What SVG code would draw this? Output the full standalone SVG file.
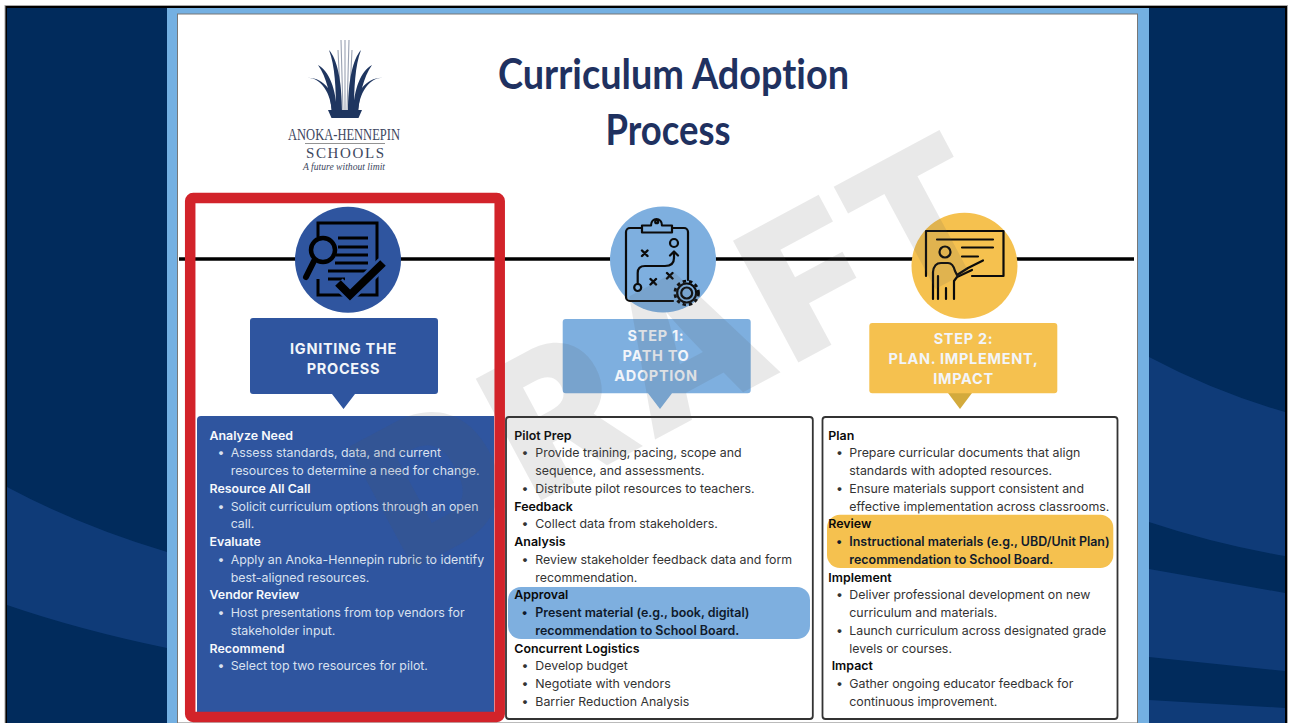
<svg xmlns="http://www.w3.org/2000/svg" width="1294" height="723" viewBox="0 0 1294 723">
<style>
.b{font:400 12.36px Inter,"Liberation Sans",sans-serif;fill:#333;transform:translateY(.3px)}
.h{font:600 12.42px Inter,"Liberation Sans",sans-serif;fill:#0a0a0a;transform:translateY(.3px)}
.s{font:600 12.45px Inter,"Liberation Sans",sans-serif;fill:#0f1a2c;transform:translateY(.3px)}
.w .b{fill:#d9e1ef}
.w .h{fill:#f7f9fc}
.hd{font:700 14.5px Inter,"Liberation Sans",sans-serif;letter-spacing:.7px;text-anchor:middle;fill:#f2f5fa}
.t{font:700 42px Lato,"Liberation Sans",sans-serif;fill:#1f3160;text-anchor:middle;font-variant-ligatures:none}
.lg{font-family:"Liberation Serif",serif;fill:#3d4760;text-anchor:middle}
.ic{fill:none;stroke:#0b0b0b;stroke-width:2.200;stroke-linecap:round;stroke-linejoin:round}
.card{fill:#fff;stroke:#333;stroke-width:1.8}
</style>
<g id="background">
<rect width="1294" height="723" fill="#fff"/>
<rect x="4.5" y="5" width="1283.5" height="718" fill="#a8a8a8"/>
<rect x="5.5" y="6" width="1281.5" height="717" fill="#000"/>
<rect x="7" y="8" width="1278" height="715" fill="#012b5c"/>
<path d="M7 487Q80 526 167 552V648Q80 630 7 605Z" fill="#0f3b78"/>
<path d="M1149 357Q1215 392 1285 412V556Q1215 544 1149 522Z" fill="#0f3b78"/>
<path d="M1149 569L1285 593V671L1149 657Z" fill="#0f3b78"/>
<path d="M1149 700L1285 708V723H1149Z" fill="#0f3b78"/>
<rect x="167" y="8" width="982" height="715" fill="#74b0e2"/>
<rect x="177.500" y="14" width="960" height="709" fill="#fff" stroke="#777" stroke-width="1"/>
</g>
<g id="connectors">
<path d="M179 259H1134" stroke="#000" stroke-width="3.500" fill="none"/>
</g>
<g id="logo">
<path d="M341 40L343 112M345 40V112M349 40L347 112M338 50L341 112M352 50L349 112" stroke="#9aa2b2" stroke-width="1.100" fill="none"/>
<g fill="#1f3660">
<path d="M331.500 118H358.500L362 110H328Z"/>
<path d="M305 78C320 76 331 92 332 113L338 113C335 92 323 76 305 78Z"/>
<path d="M318 65C329 71 336 88 337 113L332 113C330 94 327 78 318 65Z"/>
<path d="M329 50C337 59 342 80 342 113L336 113C336 88 335 66 329 50Z"/>
<path d="M385 78C370 76 359 92 358 113L352 113C355 92 367 76 385 78Z"/>
<path d="M372 65C361 71 354 88 353 113L358 113C360 94 363 78 372 65Z"/>
<path d="M361 50C353 59 348 80 348 113L354 113C354 88 355 66 361 50Z"/>
</g>
<text class="lg" x="344" y="140" font-size="16.500" textLength="112" lengthAdjust="spacingAndGlyphs">ANOKA-HENNEPIN</text>
<path d="M305 143.500H385" stroke="#777" stroke-width=".8"/>
<text class="lg" x="345" y="157.500" font-size="15" textLength="78">SCHOOLS</text>
<text class="lg" x="344" y="170" font-size="10.500" font-style="italic" textLength="82" lengthAdjust="spacingAndGlyphs">A future without limit</text>
</g>
<g id="title">
<text class="t" x="673.500" y="89" textLength="351" lengthAdjust="spacingAndGlyphs">Curriculum Adoption</text>
<text class="t" x="668" y="145" textLength="125" lengthAdjust="spacingAndGlyphs">Process</text>
</g>
<g id="node-igniting" class="w">
<circle cx="348" cy="259.700" r="53" fill="#2f559f"/>
<path d="M318 237V223H377V295H318V279" fill="none" stroke="#000" stroke-width="3"/>
<path d="M338 238H368M338 247H368M336 255H368M335 263H368M328 271H368M328 279H345" stroke="#000" stroke-width="3" fill="none"/>
<path d="M315 259L306 277" stroke="#000" stroke-width="6" stroke-linecap="round"/>
<circle cx="323" cy="250" r="12" fill="#2f559f" stroke="#000" stroke-width="4.500"/>
<path d="M338 283L350 295L383 263" fill="none" stroke="#2f559f" stroke-width="13"/>
<path d="M338 283L350 295L383 263" fill="none" stroke="#000" stroke-width="8"/>
<path d="M253 318H435a3 3 0 0 1 3 3V391a3 3 0 0 1-3 3H355L343.500 409L332 394H253a3 3 0 0 1-3-3V321a3 3 0 0 1 3-3Z" fill="#2f559f"/>
<text class="hd" x="343.500" y="354">IGNITING THE</text>
<text class="hd" x="343.500" y="373.500">PROCESS</text>
<path d="M197 420a4 4 0 0 1 4-4H494V712H197Z" fill="#2f559f"/>
<text class="h" x="209.500" y="439.500">Analyze Need</text>
<text class="b" x="217.500" y="457.200">•</text><text class="b" x="230.700" y="457.200">Assess standards, data, and current</text>
<text class="b" x="230.700" y="475">resources to determine a need for change.</text>
<text class="h" x="209.500" y="492.700">Resource All Call</text>
<text class="b" x="217.500" y="510.400">•</text><text class="b" x="230.700" y="510.400">Solicit curriculum options through an open</text>
<text class="b" x="230.700" y="528.100">call.</text>
<text class="h" x="209.500" y="545.900">Evaluate</text>
<text class="b" x="217.500" y="563.600">•</text><text class="b" x="230.700" y="563.600">Apply an Anoka-Hennepin rubric to identify</text>
<text class="b" x="230.700" y="581.300">best-aligned resources.</text>
<text class="h" x="209.500" y="599">Vendor Review</text>
<text class="b" x="217.500" y="616.800">•</text><text class="b" x="230.700" y="616.800">Host presentations from top vendors for</text>
<text class="b" x="230.700" y="634.500">stakeholder input.</text>
<text class="h" x="209.500" y="652.300">Recommend</text>
<text class="b" x="217.500" y="670">•</text><text class="b" x="230.700" y="670">Select top two resources for pilot.</text>
</g>
<g id="node-step1">
<circle cx="663" cy="259.500" r="53" fill="#7eafdf"/>
<g class="ic">
<path d="M642 228H630a4 4 0 0 0-4 4V297a4 4 0 0 0 4 4H673M688 280V232a4 4 0 0 0-4-4H672"/>
<path d="M642 232.500V225.500H651C651 217 662 217 662 225.500H672V232.500Z"/>
<circle cx="656.700" cy="221.700" r="1.500"/>
<circle cx="637.700" cy="287.500" r="3.500"/>
<circle cx="674" cy="243" r="4"/>
<path d="M637.700 284V273Q637.700 266 645 266H665Q674 266 674 258V252M670 255.500L674 251.500L678 255.500"/>
<path d="M642 250.500L647.500 256M647.500 250.500L642 256M650.500 279L656 284.500M656 279L650.500 284.500M667 273L672.500 278.500M672.500 273L667 278.500" stroke-width="2.400"/>
<circle cx="686.700" cy="293" r="9.500" fill="#7eafdf"/>
<circle cx="686.700" cy="293" r="5.500"/>
<circle cx="686.700" cy="293" r="11.800" stroke-dasharray="3.400 3" stroke-width="2.800" stroke-linecap="butt"/>
</g>
<path d="M565.700 319H747.700a3 3 0 0 1 3 3V390.300a3 3 0 0 1-3 3H672L660 409L648 393.300H565.700a3 3 0 0 1-3-3V322a3 3 0 0 1 3-3Z" fill="#7eafdf"/>
<text class="hd" x="656" y="341">STEP 1:</text>
<text class="hd" x="656" y="361">PATH TO</text>
<text class="hd" x="656" y="380.500">ADOPTION</text>
<rect class="card" x="506" y="417" width="306.800" height="302" rx="3"/>
<rect x="508" y="587" width="302" height="52" rx="13" fill="#7eafdf"/>
<text class="h" x="514.300" y="439.500">Pilot Prep</text>
<text class="b" x="521.500" y="457.200">•</text><text class="b" x="535.300" y="457.200">Provide training, pacing, scope and</text>
<text class="b" x="535.300" y="475">sequence, and assessments.</text>
<text class="b" x="521.500" y="492.700">•</text><text class="b" x="535.300" y="492.700">Distribute pilot resources to teachers.</text>
<text class="h" x="514.300" y="510.400">Feedback</text>
<text class="b" x="521.500" y="528.100">•</text><text class="b" x="535.300" y="528.100">Collect data from stakeholders.</text>
<text class="h" x="514.300" y="545.900">Analysis</text>
<text class="b" x="521.500" y="563.600">•</text><text class="b" x="535.300" y="563.600">Review stakeholder feedback data and form</text>
<text class="b" x="535.300" y="581.300">recommendation.</text>
<text class="h" x="514.300" y="599">Approval</text>
<text class="s" x="521.500" y="616.800">•</text><text class="s" x="535.300" y="616.800">Present material (e.g., book, digital)</text>
<text class="s" x="535.300" y="634.500">recommendation to School Board.</text>
<text class="h" x="514.300" y="652.300">Concurrent Logistics</text>
<text class="b" x="521.500" y="670">•</text><text class="b" x="535.300" y="670">Develop budget</text>
<text class="b" x="521.500" y="687.700">•</text><text class="b" x="535.300" y="687.700">Negotiate with vendors</text>
<text class="b" x="521.500" y="705.400">•</text><text class="b" x="535.300" y="705.400">Barrier Reduction Analysis</text>
</g>
<g id="node-step2">
<circle cx="964.500" cy="265.800" r="53" fill="#f5c14f"/>
<g class="ic">
<path d="M926 276V231H1003.500V276H972"/>
<path d="M937 239.500H993M962 247.500H993M962 256.500H978"/>
<circle cx="945" cy="252" r="5.500"/>
<path d="M933 299V272Q934 263 941 263H948Q953 263 955 271L957 275L968 268L983 260.500"/>
<path d="M954 299V281L957 277L972 270M938 276V299M946 288V299"/>
</g>
<path d="M948 393L960 409L972 393Z" fill="#d3aa3c"/>
<rect x="869.300" y="323" width="188" height="70.300" rx="3" fill="#f5c14f"/>
<text class="hd" x="963.500" y="344">STEP 2:</text>
<text class="hd" x="963.500" y="364">PLAN. IMPLEMENT,</text>
<text class="hd" x="963.500" y="384">IMPACT</text>
<rect class="card" x="822.500" y="417" width="295" height="302" rx="3"/>
<rect x="827" y="514.700" width="286.300" height="53.300" rx="13" fill="#f5c14f"/>
<text class="h" x="828.300" y="439.500">Plan</text>
<text class="b" x="836" y="457.200">•</text><text class="b" x="849.300" y="457.200">Prepare curricular documents that align</text>
<text class="b" x="849.300" y="475">standards with adopted resources.</text>
<text class="b" x="836" y="492.700">•</text><text class="b" x="849.300" y="492.700">Ensure materials support consistent and</text>
<text class="b" x="849.300" y="510.400">effective implementation across classrooms.</text>
<text class="h" x="828.300" y="528.100">Review</text>
<text class="s" x="836" y="545.900">•</text><text class="s" x="849.300" y="545.900">Instructional materials (e.g., UBD/Unit Plan)</text>
<text class="s" x="849.300" y="563.600">recommendation to School Board.</text>
<text class="h" x="828.300" y="581.300">Implement</text>
<text class="b" x="836" y="599">•</text><text class="b" x="849.300" y="599">Deliver professional development on new</text>
<text class="b" x="849.300" y="616.800">curriculum and materials.</text>
<text class="b" x="836" y="634.500">•</text><text class="b" x="849.300" y="634.500">Launch curriculum across designated grade</text>
<text class="b" x="849.300" y="652.300">levels or courses.</text>
<text class="h" x="831.700" y="670">Impact</text>
<text class="b" x="836" y="687.700">•</text><text class="b" x="849.300" y="687.700">Gather ongoing educator feedback for</text>
<text class="b" x="849.300" y="705.400">continuous improvement.</text>
</g>
<g id="watermark">
<text transform="translate(406 573) rotate(-28.200)" font-family="Inter, Liberation Sans, sans-serif" font-weight="900" font-size="190" letter-spacing="7" fill="#555" fill-opacity=".13">DRAFT</text>
</g>
<g id="highlight-frame">
<rect x="190.200" y="198" width="309.500" height="519" rx="3" fill="none" stroke="#d2232a" stroke-width="10.500"/>
</g>
</svg>
